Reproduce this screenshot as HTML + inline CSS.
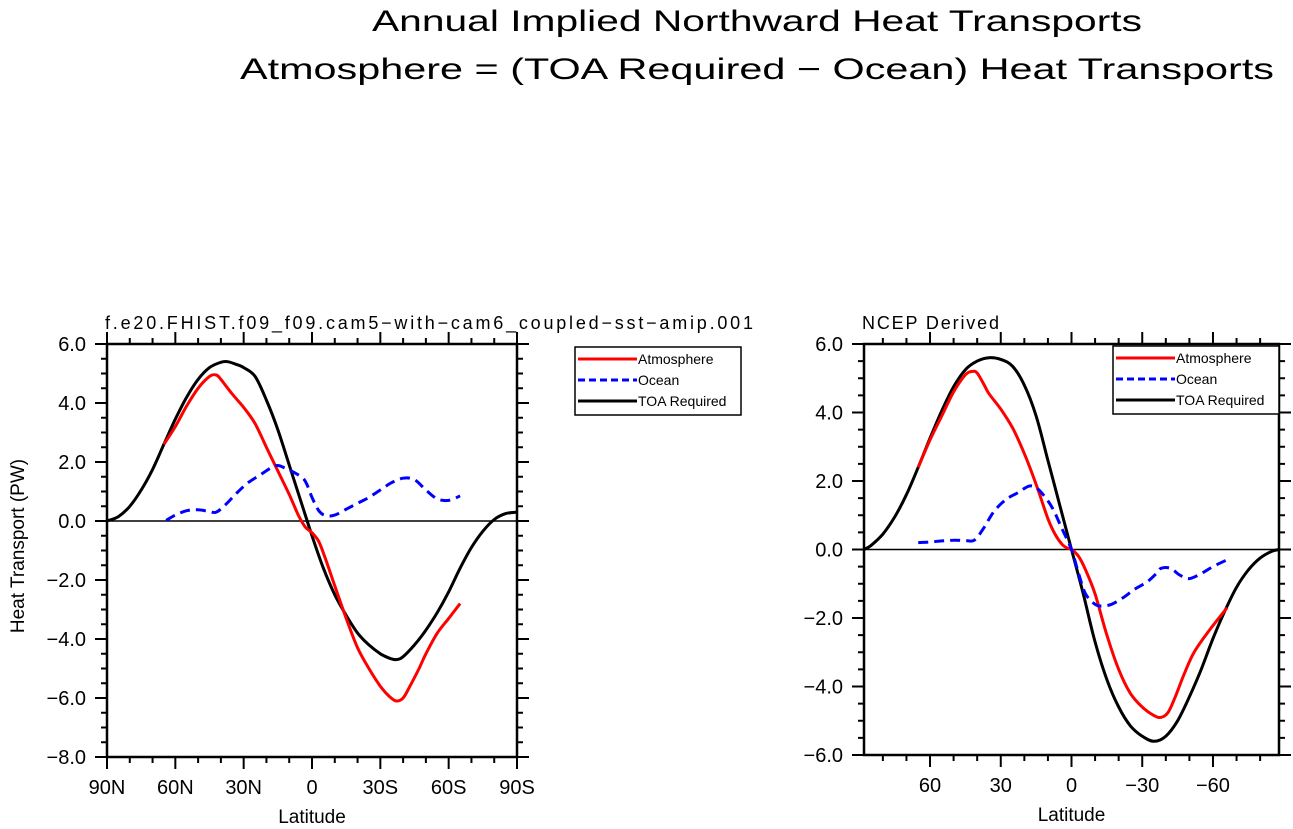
<!DOCTYPE html>
<html><head><meta charset="utf-8"><style>
body{margin:0;background:#fff;}
svg{display:block;font-family:"Liberation Sans",sans-serif;}
</style></head><body>
<svg id="fig" width="1293" height="829" viewBox="0 0 1293 829">
<text x="372" y="31" font-size="30" textLength="770" lengthAdjust="spacingAndGlyphs">Annual Implied Northward Heat Transports</text>
<text x="240" y="79" font-size="30" textLength="1034" lengthAdjust="spacingAndGlyphs">Atmosphere = (TOA Required − Ocean) Heat Transports</text>
</svg>
<script>
// Left panel data (latitude, PW)
const leftToaLat = [90,85,80,75,70,65,60,55,50,45,40,37,33,30,25,20,15,10,5,0,-5,-10,-15,-20,-25,-30,-34,-37,-40,-45,-50,-55,-60,-65,-70,-75,-80,-85,-90];
const leftToaVal = [0,0.15,0.5,1.05,1.75,2.6,3.45,4.2,4.8,5.2,5.38,5.4,5.3,5.2,4.9,4.1,3.1,1.9,0.7,-0.5,-1.6,-2.5,-3.2,-3.8,-4.2,-4.5,-4.65,-4.7,-4.6,-4.2,-3.7,-3.1,-2.4,-1.6,-0.9,-0.35,0.05,0.25,0.3];
const leftAtmLat = [65,60,55,50,45,42,40,35,30,25,20,15,10,6,3,0,-3,-6,-10,-15,-20,-25,-30,-34,-37,-40,-43,-47,-50,-55,-60,-65];
const leftAtmVal = [2.6,3.2,3.9,4.5,4.9,4.95,4.8,4.3,3.85,3.3,2.5,1.7,0.9,0.2,-0.2,-0.4,-0.7,-1.3,-2.2,-3.3,-4.3,-5.0,-5.6,-5.95,-6.1,-6.0,-5.6,-5.0,-4.5,-3.8,-3.3,-2.8];
const leftOcnLat = [64,60,55,50,45,42,38,33,28,22,18,15,12,8,4,2,0,-3,-6,-10,-15,-20,-25,-30,-35,-40,-45,-50,-55,-60,-65];
const leftOcnVal = [0.02,0.2,0.35,0.38,0.32,0.3,0.55,0.95,1.3,1.6,1.8,1.88,1.8,1.65,1.45,1.2,0.8,0.35,0.18,0.2,0.4,0.6,0.8,1.05,1.3,1.45,1.4,1.05,0.75,0.7,0.85];
// Right panel data
const rightToaLat = [88,85,80,75,70,65,60,55,50,45,40,35,30,25,20,15,10,5,0,-5,-10,-15,-20,-25,-30,-35,-40,-45,-50,-55,-60,-65,-70,-75,-80,-85,-88];
const rightToaVal = [0,0.12,0.45,0.95,1.6,2.4,3.25,4.05,4.75,5.25,5.5,5.6,5.55,5.35,4.8,3.9,2.6,1.3,0,-1.3,-2.7,-3.8,-4.6,-5.15,-5.45,-5.6,-5.45,-5.0,-4.3,-3.5,-2.6,-1.8,-1.1,-0.6,-0.25,-0.05,0];
const rightAtmLat = [65,60,55,50,45,42,40,37,35,30,25,20,15,10,7,4,2,0,-3,-6,-10,-15,-20,-25,-30,-35,-38,-41,-44,-48,-52,-58,-66];
const rightAtmVal = [2.4,3.2,3.9,4.6,5.1,5.2,5.15,4.8,4.55,4.1,3.55,2.8,1.9,0.9,0.45,0.15,0.05,0,-0.2,-0.6,-1.3,-2.5,-3.5,-4.2,-4.6,-4.85,-4.9,-4.75,-4.3,-3.6,-3.0,-2.4,-1.7];
const rightOcnLat = [65,60,55,50,45,42,40,37,33,28,23,18,15,12,8,4,0,-3,-6,-10,-13,-17,-22,-27,-32,-36,-38,-42,-46,-50,-55,-60,-66];
const rightOcnVal = [0.2,0.22,0.25,0.27,0.26,0.25,0.35,0.65,1.1,1.45,1.65,1.85,1.8,1.6,1.2,0.6,0,-0.7,-1.3,-1.6,-1.65,-1.6,-1.4,-1.15,-0.95,-0.7,-0.55,-0.55,-0.75,-0.85,-0.7,-0.5,-0.3];
const leftXTicks = [90,60,30,0,-30,-60,-90];
const leftXLabels = ["90N","60N","30N","0","30S","60S","90S"];
const rightXTicks = [60,30,0,-30,-60];
const rightXLabels = ["60","30","0","−30","−60"];
const leftYTicks = [6,4,2,0,-2,-4,-6,-8];
const rightYTicks = [6,4,2,0,-2,-4,-6];
const legendLabels = ["Atmosphere","Ocean","TOA Required"];

const NS='http://www.w3.org/2000/svg';
const svg=document.getElementById('fig');
function mk(tag,attrs,parent){const e=document.createElementNS(NS,tag);for(const k in attrs)e.setAttribute(k,attrs[k]);(parent||svg).appendChild(e);return e;}
function fmt(v){return (v<0?'−':'')+Math.abs(v).toFixed(1);}
function smooth(pts){
  let d='M'+pts[0][0].toFixed(1)+','+pts[0][1].toFixed(1);
  for(let i=0;i<pts.length-1;i++){
    const p0=pts[Math.max(0,i-1)],p1=pts[i],p2=pts[i+1],p3=pts[Math.min(pts.length-1,i+2)];
    const c1x=p1[0]+(p2[0]-p0[0])/6,c1y=p1[1]+(p2[1]-p0[1])/6;
    const c2x=p2[0]-(p3[0]-p1[0])/6,c2y=p2[1]-(p3[1]-p1[1])/6;
    d+='C'+c1x.toFixed(1)+','+c1y.toFixed(1)+' '+c2x.toFixed(1)+','+c2y.toFixed(1)+' '+p2[0].toFixed(1)+','+p2[1].toFixed(1);
  }
  return d;
}

function panel(opt){
  const g=mk('g',{});
  
  
  const sx=v=>opt.x0+(opt.xMax-v)/(opt.xMax-opt.xMin)*(opt.x1-opt.x0);
  const sy=v=>opt.y1-(v-opt.yMin)/(opt.yMax-opt.yMin)*(opt.y1-opt.y0);
  for(let v=Math.ceil(opt.xMin/10)*10; v<=opt.xMax; v+=10){
    const X=sx(v); const major=v%30===0;
    const L=major?12:6;
    const t1=mk('line',{x1:X,x2:X,y1:opt.y1,y2:opt.y1+L,stroke:'#000','stroke-width':2},g);
    
    
    const t2=mk('line',{x1:X,x2:X,y1:opt.y0,y2:opt.y0-L,stroke:'#000','stroke-width':2},g);
    
    
  }
  for(let v=opt.yMin; v<=opt.yMax+1e-9; v+=0.5){
    const Y=sy(v); const major=Math.abs(v%2)<1e-9;
    const L=major?12:6;
    const t1=mk('line',{x1:opt.x0,x2:opt.x0-L,y1:Y,y2:Y,stroke:'#000','stroke-width':2},g);
    
    
    const t2=mk('line',{x1:opt.x1,x2:opt.x1+L,y1:Y,y2:Y,stroke:'#000','stroke-width':2},g);
    
    
  }
  opt.yTicks.forEach(v=>{
    const t=mk('text',{x:opt.x0-21,y:sy(v)+7,'font-size':20,'text-anchor':'end'},g);
    t.textContent=fmt(v);
    
    
  });
  opt.xTicks.forEach((v,i)=>{
    const t=mk('text',{x:sx(v),y:opt.y1+37,'font-size':20,'text-anchor':'middle'},g);
    t.textContent=opt.xLabels[i];
    
    
  });
  const xt=mk('text',{x:(opt.x0+opt.x1)/2,y:opt.y1+66,'font-size':19,'text-anchor':'middle'},g);
  xt.textContent='Latitude';
  
  
  const st=mk('text',{x:opt.x0-2,y:opt.y0-15,'font-size':18},g);
  st.textContent=opt.subtitle;
  if(opt.subLen) st.setAttribute('textLength',opt.subLen);
  
  
  const zl=mk('line',{x1:opt.x0,x2:opt.x1,y1:sy(0),y2:sy(0),stroke:'#000','stroke-width':1.5},g);
  
  
  function series(lat,val,color,dash,name){
    const pts=lat.map((a,i)=>[sx(a),sy(val[i])]);
    const p=mk('path',{d:smooth(pts),fill:'none',stroke:color,'stroke-width':3,'stroke-linejoin':'round','stroke-dasharray':dash||'none'},g);
    
    
  }
  series(opt.toaLat,opt.toaVal,'#000',null,'toa-required-line');
  series(opt.atmLat,opt.atmVal,'#f00',null,'atmosphere-line');
  series(opt.ocnLat,opt.ocnVal,'#00f','10,6','ocean-line');
  const fr=mk('rect',{x:opt.x0,y:opt.y0,width:opt.x1-opt.x0,height:opt.y1-opt.y0,fill:'none',stroke:'#000','stroke-width':2.5},g);
  
  
  const lg=mk('g',{},g);
  
  
  mk('rect',{x:opt.lx,y:opt.ly,width:166,height:68,fill:'#fff',stroke:'#000','stroke-width':1.5},lg);
  const cols=['#f00','#00f','#000'];
  legendLabels.forEach((lab,i)=>{
    const y=opt.ly+12+i*21;
    mk('line',{x1:opt.lx+3,x2:opt.lx+62,y1:y,y2:y,stroke:cols[i],'stroke-width':3,'stroke-dasharray':i==1?'7,4':'none'},lg);
    const t=mk('text',{x:opt.lx+63,y:y+5,'font-size':14},lg);
    t.textContent=lab;
    
    
  });
}
panel({name:'left-panel',x0:107,x1:517,y0:344,y1:757,xMax:90,xMin:-90,yMin:-8,yMax:6,
  xTicks:leftXTicks,xLabels:leftXLabels,yTicks:leftYTicks,subtitle:'f.e20.FHIST.f09_f09.cam5−with−cam6_coupled−sst−amip.001',subLen:648,
  toaLat:leftToaLat,toaVal:leftToaVal,atmLat:leftAtmLat,atmVal:leftAtmVal,ocnLat:leftOcnLat,ocnVal:leftOcnVal,lx:575,ly:347});
panel({name:'right-panel',x0:864,x1:1279,y0:344,y1:755,xMax:88,xMin:-88,yMin:-6,yMax:6,
  xTicks:rightXTicks,xLabels:rightXLabels,yTicks:rightYTicks,subtitle:'NCEP  Derived',subLen:137,
  toaLat:rightToaLat,toaVal:rightToaVal,atmLat:rightAtmLat,atmVal:rightAtmVal,ocnLat:rightOcnLat,ocnVal:rightOcnVal,lx:1113,ly:346});
const yl=mk('text',{x:0,y:0,'font-size':19,'text-anchor':'middle',transform:'translate(24,546) rotate(-90)'});
yl.textContent='Heat Transport (PW)';


</script>
</body></html>
